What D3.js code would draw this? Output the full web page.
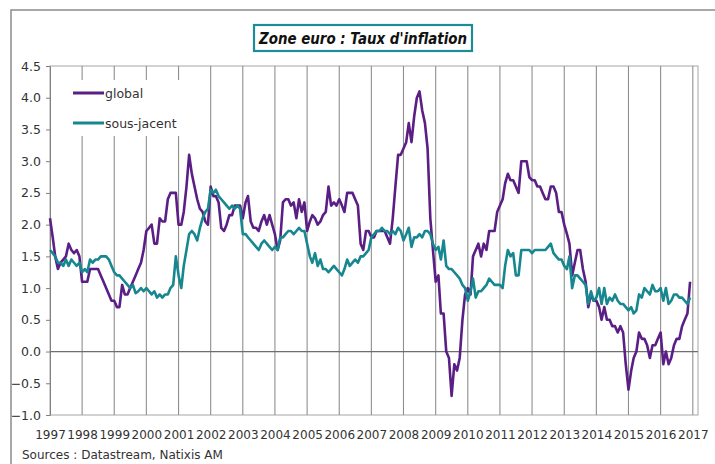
<!DOCTYPE html>
<html>
<head>
<meta charset="utf-8">
<script src="https://cdn.jsdelivr.net/npm/d3@7"></script>
<style>
  html, body { margin: 0; padding: 0; background: #fff; }
  svg { display: block; }
  text { font-family: "DejaVu Sans", Verdana, sans-serif; fill: #333; }
</style>
</head>
<body>
<svg id="chart" width="715" height="464"></svg>
<script>
// Euro area annual inflation, monthly, Jan 1997 - Dec 2016 (%)
const startYear = 1997;

const globalRate = [
  // 1997
  2.1, 1.8, 1.5, 1.3, 1.4, 1.45, 1.5, 1.7, 1.6, 1.55, 1.6, 1.5,
  // 1998
  1.1, 1.1, 1.1, 1.3, 1.3, 1.3, 1.3, 1.2, 1.1, 1.0, 0.9, 0.8,
  // 1999
  0.8, 0.7, 0.7, 1.05, 0.9, 0.9, 1.0, 1.1, 1.2, 1.3, 1.4, 1.6,
  // 2000
  1.9, 1.95, 2.0, 1.7, 1.7, 2.1, 2.05, 2.05, 2.4, 2.5, 2.5, 2.5,
  // 2001
  2.0, 2.0, 2.2, 2.6, 3.1, 2.8, 2.6, 2.4, 2.25, 2.2, 2.05, 2.0,
  // 2002
  2.6, 2.45, 2.45, 2.35, 1.95, 1.9, 2.0, 2.15, 2.15, 2.3, 2.3, 2.3,
  // 2003
  2.1, 2.35, 2.45, 2.05, 1.95, 1.95, 1.9, 2.05, 2.15, 2.0, 2.15, 2.0,
  // 2004
  1.85, 1.6, 1.75, 2.35, 2.4, 2.4, 2.3, 2.35, 2.1, 2.4, 2.2, 2.35,
  // 2005
  1.9, 2.05, 2.15, 2.1, 2.0, 2.05, 2.15, 2.2, 2.6, 2.3, 2.35, 2.3,
  // 2006
  2.4, 2.3, 2.2, 2.5, 2.5, 2.5, 2.4, 2.3, 1.7, 1.6, 1.9, 1.9,
  // 2007
  1.8, 1.8, 1.9, 1.9, 1.9, 1.9, 1.8, 1.7, 2.1, 2.6, 3.1, 3.1,
  // 2008
  3.2, 3.3, 3.6, 3.3, 3.7, 4.0, 4.1, 3.8, 3.6, 3.2, 2.1, 1.6,
  // 2009
  1.1, 1.2, 0.6, 0.6, 0.0, -0.1, -0.7, -0.2, -0.3, -0.1, 0.5, 0.9,
  // 2010
  1.0, 0.9, 1.5, 1.6, 1.7, 1.5, 1.7, 1.6, 1.9, 1.9, 1.9, 2.2,
  // 2011
  2.3, 2.4, 2.65, 2.8, 2.7, 2.7, 2.6, 2.5, 3.0, 3.0, 3.0, 2.75,
  // 2012
  2.7, 2.7, 2.6, 2.6, 2.5, 2.4, 2.4, 2.6, 2.6, 2.5, 2.2, 2.2,
  // 2013
  2.0, 1.85, 1.7, 1.2, 1.4, 1.6, 1.6, 1.3, 1.1, 0.7, 0.9, 0.8,
  // 2014
  0.8, 0.7, 0.5, 0.7, 0.5, 0.5, 0.4, 0.4, 0.3, 0.4, 0.3, -0.2,
  // 2015
  -0.6, -0.3, -0.1, 0.0, 0.3, 0.2, 0.2, 0.1, -0.1, 0.1, 0.1, 0.2,
  // 2016
  0.3, -0.2, 0.0, -0.2, -0.1, 0.1, 0.2, 0.2, 0.4, 0.5, 0.6, 1.1
];

const coreRate = [
  // 1997
  1.6, 1.55, 1.5, 1.4, 1.4, 1.35, 1.45, 1.35, 1.45, 1.4, 1.35, 1.4,
  // 1998
  1.25, 1.3, 1.25, 1.45, 1.4, 1.45, 1.45, 1.5, 1.5, 1.5, 1.45, 1.35,
  // 1999
  1.25, 1.2, 1.2, 1.15, 1.1, 1.05, 1.0, 1.05, 0.92, 0.95, 1.0, 0.95,
  // 2000
  1.0, 0.95, 0.9, 0.95, 0.85, 0.9, 0.85, 0.9, 0.9, 1.0, 1.05, 1.5,
  // 2001
  1.2, 1.0, 1.35, 1.6, 1.85, 1.9, 1.85, 1.75, 1.95, 2.1, 2.2, 2.25,
  // 2002
  2.55, 2.5, 2.55, 2.45, 2.4, 2.35, 2.3, 2.25, 2.3, 2.25, 2.3, 2.25,
  // 2003
  1.85, 1.85, 1.8, 1.75, 1.7, 1.65, 1.6, 1.7, 1.75, 1.7, 1.65, 1.6,
  // 2004
  1.65, 1.6, 1.8, 1.8, 1.85, 1.9, 1.9, 1.85, 1.9, 1.95, 1.9, 1.9,
  // 2005
  1.7, 1.5, 1.4, 1.55, 1.35, 1.45, 1.3, 1.3, 1.25, 1.3, 1.35, 1.3,
  // 2006
  1.25, 1.2, 1.3, 1.45, 1.35, 1.4, 1.45, 1.4, 1.5, 1.5, 1.55, 1.6,
  // 2007
  1.8, 1.85, 1.9, 1.9, 1.95, 1.9, 1.9, 1.85, 1.9, 1.85, 1.95, 1.9,
  // 2008
  1.75, 1.85, 1.95, 1.65, 1.8, 1.8, 1.85, 1.8, 1.9, 1.9, 1.85, 1.7,
  // 2009
  1.6, 1.65, 1.45, 1.75, 1.35, 1.3, 1.3, 1.25, 1.2, 1.15, 1.05, 1.0,
  // 2010
  0.8, 0.95, 1.15, 0.85, 0.95, 0.95, 1.0, 1.05, 1.15, 1.1, 1.05, 1.05,
  // 2011
  1.05, 1.0, 1.35, 1.6, 1.5, 1.55, 1.2, 1.2, 1.6, 1.6, 1.6, 1.6,
  // 2012
  1.55, 1.6, 1.6, 1.6, 1.6, 1.6, 1.65, 1.7, 1.55, 1.5, 1.45, 1.45,
  // 2013
  1.35, 1.3, 1.5, 1.0, 1.2, 1.2, 1.15, 1.1, 1.05, 0.75, 0.95, 0.8,
  // 2014
  0.85, 1.0, 0.75, 1.0, 0.75, 0.85, 0.8, 0.9, 0.8, 0.75, 0.75, 0.7,
  // 2015
  0.65, 0.7, 0.6, 0.65, 0.9, 0.85, 1.0, 0.95, 0.9, 1.05, 0.95, 0.95,
  // 2016
  1.0, 0.8, 1.0, 0.75, 0.8, 0.9, 0.9, 0.85, 0.85, 0.8, 0.75, 0.85
];

const seriesNames = ["global", "sous-jacent"];
const seriesColors = ["#5a1e85", "#16878f"];
const yearLabels = ["1997","1998","1999","2000","2001","2002","2003","2004","2005","2006",
                    "2007","2008","2009","2010","2011","2012","2013","2014","2015","2016","2017"];
const yTicks = [-1.0, -0.5, 0.0, 0.5, 1.0, 1.5, 2.0, 2.5, 3.0, 3.5, 4.0, 4.5];
const titleText = "Zone euro : Taux d'inflation";
const sourceText = "Sources : Datastream, Natixis AM";

const svg = d3.select("#chart");
const plot = { left: 50, right: 698, top: 66, bottom: 415 };

const x = d3.scaleTime()
  .domain([new Date(1997, 0, 1), new Date(2017, 2, 1)])
  .range([plot.left, plot.right]);
const y = d3.scaleLinear()
  .domain([-1, 4.5])
  .range([plot.bottom, plot.top]);

const dateOf = i => new Date(startYear, i, 1);

// outer frame
svg.append("path")
  .attr("d", "M11,470 L11,10 L720,10")
  .attr("fill", "none").attr("stroke", "#8c8c8c").attr("stroke-width", 1.5);

// title box
const titleX = 363;
svg.append("rect")
  .attr("x", 254).attr("y", 25).attr("width", 218).attr("height", 26)
  .attr("fill", "#fff").attr("stroke", "#1e8c98").attr("stroke-width", 2.2);
svg.append("text")
  .attr("x", titleX).attr("y", 43.5)
  .attr("text-anchor", "middle")
  .attr("textLength", 208).attr("lengthAdjust", "spacingAndGlyphs")
  .style("font-family", "'DejaVu Sans', sans-serif")
  .style("font-weight", "bold").style("font-style", "italic")
  .style("font-size", "15px").style("fill", "#111")
  .text(titleText);

// plot frame
svg.append("rect")
  .attr("x", plot.left).attr("y", plot.top)
  .attr("width", plot.right - plot.left).attr("height", plot.bottom - plot.top)
  .attr("fill", "#fff").attr("stroke", "#a6a6a6").attr("stroke-width", 1);

// vertical year gridlines
const gridYears = yearLabels.slice(1).map(s => new Date(+s, 0, 1));
svg.append("g").selectAll("line").data(gridYears).join("line")
  .attr("x1", d => x(d)).attr("x2", d => x(d))
  .attr("y1", plot.top).attr("y2", plot.bottom)
  .attr("stroke", "#8f8f8f").attr("stroke-width", 1.1);

// y axis
const yAxis = d3.axisLeft(y).tickValues(yTicks).tickFormat(d3.format(".1f")).tickSize(4).tickPadding(5);
const gy = svg.append("g").attr("transform", `translate(${plot.left},0)`).call(yAxis);
gy.select(".domain").attr("stroke", "#808080");
gy.selectAll(".tick line").attr("stroke", "#808080");
gy.selectAll(".tick text")
  .style("font-size", "12.5px").style("font-family", "'DejaVu Sans', sans-serif")
  .attr("fill", "#333");

// zero line
svg.append("line")
  .attr("x1", plot.left).attr("x2", plot.right)
  .attr("y1", y(0)).attr("y2", y(0))
  .attr("stroke", "#6e6e6e").attr("stroke-width", 1.2);

// x axis labels (years)
const xAxis = d3.axisBottom(x)
  .tickValues(yearLabels.map(s => new Date(+s, 0, 1)))
  .tickFormat(d3.timeFormat("%Y")).tickSize(0).tickPadding(15);
const gx = svg.append("g").attr("transform", `translate(0,${plot.bottom})`).call(xAxis);
gx.select(".domain").remove();
gx.selectAll(".tick text")
  .style("font-size", "12px").style("font-family", "'DejaVu Sans', sans-serif")
  .attr("fill", "#333");

// legend
const legend = svg.append("g");
legend.append("rect")
  .attr("x", 56).attr("y", 80).attr("width", 136).attr("height", 56)
  .attr("fill", "#fff");
const legendRows = [93, 123];
seriesNames.forEach((name, k) => {
  legend.append("line")
    .attr("x1", 73).attr("x2", 104)
    .attr("y1", legendRows[k]).attr("y2", legendRows[k])
    .attr("stroke", seriesColors[k]).attr("stroke-width", 3);
  legend.append("text")
    .attr("x", 105).attr("y", legendRows[k] + 4.5)
    .style("font-size", "12.5px").attr("fill", "#333")
    .text(name);
});

// series lines
const line = d3.line()
  .x((d, i) => x(dateOf(i)))
  .y(d => y(d));
[globalRate, coreRate].forEach((vals, k) => {
  svg.append("path")
    .datum(vals)
    .attr("d", line)
    .attr("fill", "none")
    .attr("stroke", seriesColors[k])
    .attr("stroke-width", 2.6)
    .attr("stroke-linejoin", "round");
});

// source note
svg.append("text")
  .attr("x", 22).attr("y", 459)
  .style("font-size", "12px").attr("fill", "#333")
  .text(sourceText);
</script>
</body>
</html>
